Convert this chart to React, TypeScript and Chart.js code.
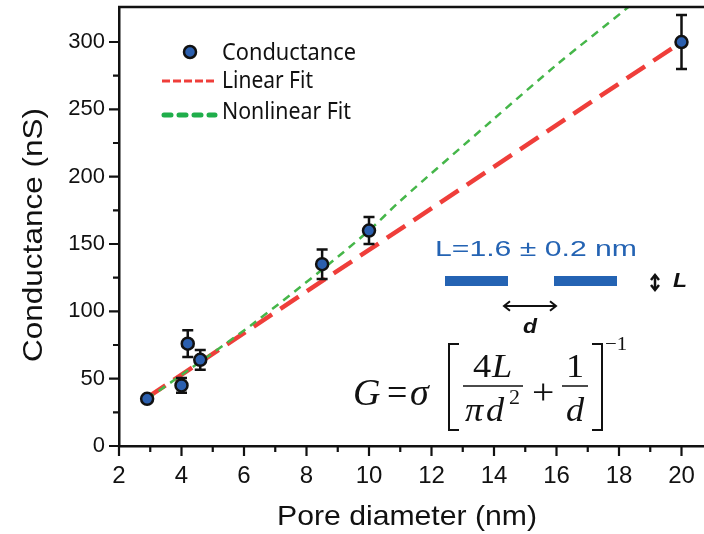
import { useEffect, useRef } from "react";
import { Chart, registerables } from "chart.js";

Chart.register(...registerables);

// Measured pore conductance
const poreDiameter = [2.9, 4.0, 4.2, 4.6, 8.5, 10.0, 20.0];
const conductance = [35, 45, 76, 64, 135, 160, 300];
const conductanceErr = [2, 5.5, 10, 7.3, 11, 10, 20];

// Linear fit line
const linearFitX = [2.9, 20.0];
const linearFitY = [36, 300];

// Nonlinear (access + pore resistance) fit curve
const nonlinearFitX = [2.9, 4.2, 6.3, 8.5, 10.0, 11.0, 14.0, 16.0, 18.3, 18.6];
const nonlinearFitY = [35, 56, 91, 131, 160, 182, 243, 283, 326, 333];

// Axis ticks
const xTicks = [2, 4, 6, 8, 10, 12, 14, 16, 18, 20];
const xMinorTicks = [3, 5, 7, 9, 11, 13, 15, 17, 19];
const yTicks = [0, 50, 100, 150, 200, 250, 300];
const yMinorTicks = [25, 75, 125, 175, 225, 275];

const RED = "#ef3e3a";
const GREEN = "#45b649";
const LEGEND_GREEN = "#1fae4b";
const POINT_BLUE = "#2b5fae";
const TEXT_BLUE = "#2463b3";
const SANS = "'Liberation Sans', Arial, sans-serif";
const SERIF = "'Liberation Serif', 'Times New Roman', serif";

function fitText(
  ctx: CanvasRenderingContext2D,
  text: string,
  x: number,
  y: number,
  font: string,
  width: number,
  color: string
) {
  ctx.save();
  ctx.font = font;
  const w = ctx.measureText(text).width;
  ctx.translate(x, y);
  ctx.scale(width / w, 1);
  ctx.fillStyle = color;
  ctx.textAlign = "left";
  ctx.textBaseline = "alphabetic";
  ctx.fillText(text, 0, 0);
  ctx.restore();
}

function serifText(
  ctx: CanvasRenderingContext2D,
  text: string,
  x: number,
  y: number,
  font: string,
  align: CanvasTextAlign = "left",
  sx = 1.1
) {
  ctx.save();
  ctx.font = font;
  ctx.translate(x, y);
  ctx.scale(sx, 1);
  ctx.fillStyle = "#111";
  ctx.textAlign = align;
  ctx.textBaseline = "alphabetic";
  ctx.fillText(text, 0, 0);
  ctx.restore();
}

function arrowHead(ctx: CanvasRenderingContext2D, x: number, y: number, dx: number, dy: number, size: number) {
  // open chevron pointing in direction (dx, dy)
  const px = -dy;
  const py = dx;
  ctx.beginPath();
  ctx.moveTo(x - dx * size + px * size * 0.8, y - dy * size + py * size * 0.8);
  ctx.lineTo(x, y);
  ctx.lineTo(x - dx * size - px * size * 0.8, y - dy * size - py * size * 0.8);
  ctx.stroke();
}

const decorations = {
  id: "decorations",
  beforeDatasetDraw(chart: any, args: any) {
    if (args.index !== 2) return;
    const ctx = chart.ctx as CanvasRenderingContext2D;
    const xs = chart.scales.x;
    const ys = chart.scales.y;
    ctx.save();
    ctx.strokeStyle = "#111";
    ctx.lineWidth = 2.5;
    poreDiameter.forEach((d, i) => {
      const px = xs.getPixelForValue(d);
      const top = ys.getPixelForValue(conductance[i] + conductanceErr[i]);
      const bot = ys.getPixelForValue(conductance[i] - conductanceErr[i]);
      ctx.beginPath();
      ctx.moveTo(px, top);
      ctx.lineTo(px, bot);
      ctx.moveTo(px - 5.5, top);
      ctx.lineTo(px + 5.5, top);
      ctx.moveTo(px - 5.5, bot);
      ctx.lineTo(px + 5.5, bot);
      ctx.stroke();
    });
    ctx.restore();
  },
  afterDraw(chart: any) {
    const ctx = chart.ctx as CanvasRenderingContext2D;
    const xs = chart.scales.x;
    const ys = chart.scales.y;
    const area = chart.chartArea;
    ctx.save();

    // frame: top line and tick marks
    ctx.strokeStyle = "#111";
    ctx.lineWidth = 2.5;
    ctx.beginPath();
    ctx.moveTo(area.left - 1, area.top);
    ctx.lineTo(area.right, area.top);
    ctx.stroke();

    ctx.lineWidth = 2.2;
    ctx.beginPath();
    xTicks.forEach((v) => {
      const p = xs.getPixelForValue(v);
      ctx.moveTo(p, area.bottom);
      ctx.lineTo(p, area.bottom + 10);
    });
    xMinorTicks.forEach((v) => {
      const p = xs.getPixelForValue(v);
      ctx.moveTo(p, area.bottom);
      ctx.lineTo(p, area.bottom + 6);
    });
    yTicks.forEach((v) => {
      const p = ys.getPixelForValue(v);
      ctx.moveTo(area.left, p);
      ctx.lineTo(area.left - 10, p);
    });
    yMinorTicks.forEach((v) => {
      const p = ys.getPixelForValue(v);
      ctx.moveTo(area.left, p);
      ctx.lineTo(area.left - 6, p);
    });
    ctx.stroke();

    // axis titles
    fitText(ctx, "Pore diameter (nm)", 277, 525, `28px ${SANS}`, 260, "#111");
    ctx.save();
    ctx.translate(42, 362);
    ctx.rotate(-Math.PI / 2);
    fitText(ctx, "Conductance (nS)", 0, 0, `28px ${SANS}`, 254, "#111");
    ctx.restore();

    // legend
    ctx.beginPath();
    ctx.arc(190, 52, 6, 0, Math.PI * 2);
    ctx.fillStyle = POINT_BLUE;
    ctx.fill();
    ctx.lineWidth = 2.5;
    ctx.strokeStyle = "#111";
    ctx.stroke();

    ctx.strokeStyle = RED;
    ctx.lineWidth = 3;
    ctx.setLineDash([8, 3]);
    ctx.beginPath();
    ctx.moveTo(162, 81);
    ctx.lineTo(215, 81);
    ctx.stroke();

    ctx.strokeStyle = LEGEND_GREEN;
    ctx.lineWidth = 5;
    ctx.lineCap = "round";
    ctx.setLineDash([7, 8]);
    ctx.beginPath();
    ctx.moveTo(164, 115);
    ctx.lineTo(215, 115);
    ctx.stroke();
    ctx.setLineDash([]);
    ctx.lineCap = "butt";

    fitText(ctx, "Conductance", 222, 60, `23px 'Noto Sans', ${SANS}`, 134, "#111");
    fitText(ctx, "Linear Fit", 222, 88, `23px 'Noto Sans', ${SANS}`, 91, "#111");
    fitText(ctx, "Nonlinear Fit", 222, 119, `23px 'Noto Sans', ${SANS}`, 129, "#111");

    // pore sketch
    fitText(ctx, "L=1.6 \u00b1 0.2 nm", 435, 256, `22px ${SANS}`, 202, TEXT_BLUE);
    ctx.fillStyle = TEXT_BLUE;
    ctx.fillRect(445, 276, 63, 10);
    ctx.fillRect(554, 276, 63, 10);

    ctx.strokeStyle = "#111";
    ctx.lineWidth = 2;
    ctx.beginPath();
    ctx.moveTo(504, 306);
    ctx.lineTo(556, 306);
    ctx.stroke();
    arrowHead(ctx, 504, 306, -1, 0, 6);
    arrowHead(ctx, 556, 306, 1, 0, 6);

    ctx.lineWidth = 2.5;
    ctx.beginPath();
    ctx.moveTo(655, 275);
    ctx.lineTo(655, 290);
    ctx.stroke();
    arrowHead(ctx, 655, 275, 0, -1, 5);
    arrowHead(ctx, 655, 290, 0, 1, 5);

    fitText(ctx, "d", 523, 333, `italic bold 21px ${SANS}`, 14, "#111");
    fitText(ctx, "L", 673, 287, `italic bold 20px ${SANS}`, 14, "#111");

    // conductance model
    serifText(ctx, "G", 353, 405, `italic 38px ${SERIF}`, "left", 1.0);
    serifText(ctx, "=", 387, 405, `38px ${SERIF}`, "left", 0.95);
    serifText(ctx, "\u03c3", 410, 405, `italic 38px ${SERIF}`, "left", 1.0);

    ctx.strokeStyle = "#111";
    ctx.lineWidth = 2;
    ctx.beginPath();
    ctx.moveTo(459, 344);
    ctx.lineTo(449, 344);
    ctx.lineTo(449, 430);
    ctx.lineTo(459, 430);
    ctx.moveTo(592, 344);
    ctx.lineTo(602, 344);
    ctx.lineTo(602, 430);
    ctx.lineTo(592, 430);
    ctx.stroke();

    serifText(ctx, "4", 473, 377, `33px ${SERIF}`);
    serifText(ctx, "L", 492, 377, `italic 33px ${SERIF}`);
    ctx.lineWidth = 1.6;
    ctx.beginPath();
    ctx.moveTo(463, 386);
    ctx.lineTo(523, 386);
    ctx.moveTo(562, 386);
    ctx.lineTo(588, 386);
    ctx.stroke();
    serifText(ctx, "\u03c0", 465, 421, `italic 33px ${SERIF}`);
    serifText(ctx, "d", 486, 421, `italic 33px ${SERIF}`);
    serifText(ctx, "2", 509, 404, `20px ${SERIF}`);
    serifText(ctx, "+", 532, 404, `36px ${SERIF}`);
    serifText(ctx, "1", 575, 377, `33px ${SERIF}`, "center");
    serifText(ctx, "d", 575, 421, `italic 33px ${SERIF}`, "center");
    serifText(ctx, "\u22121", 605, 350, `19px ${SERIF}`);

    ctx.restore();
  },
};

export default function App() {
  const canvasRef = useRef<HTMLCanvasElement | null>(null);

  useEffect(() => {
    const canvas = canvasRef.current;
    if (!canvas) return;
    const chart = new Chart(canvas, {
      type: "scatter",
      data: {
        datasets: [
          {
            label: "Linear Fit",
            data: linearFitX.map((x, i) => ({ x, y: linearFitY[i] })),
            showLine: true,
            borderColor: RED,
            borderWidth: 4.5,
            borderDash: [22, 10],
            pointRadius: 0,
            order: 3,
          },
          {
            label: "Nonlinear Fit",
            data: nonlinearFitX.map((x, i) => ({ x, y: nonlinearFitY[i] })),
            showLine: true,
            borderColor: GREEN,
            borderWidth: 2.5,
            borderDash: [8, 6],
            pointRadius: 0,
            tension: 0.3,
            order: 2,
          },
          {
            label: "Conductance",
            data: poreDiameter.map((x, i) => ({ x, y: conductance[i] })),
            showLine: false,
            pointRadius: 6,
            pointBackgroundColor: POINT_BLUE,
            pointBorderColor: "#111",
            pointBorderWidth: 2.5,
            order: 1,
          },
        ],
      },
      options: {
        animation: false,
        responsive: false,
        devicePixelRatio: 1,
        layout: { autoPadding: false, padding: { top: 7, right: 0, left: 0, bottom: 0 } },
        plugins: { legend: { display: false }, tooltip: { enabled: false } },
        scales: {
          x: {
            type: "linear",
            min: 2,
            max: 20.72,
            afterBuildTicks: (s: any) => {
              s.ticks = xTicks.map((value) => ({ value }));
            },
            afterFit: (s: any) => {
              s.height = 88;
              s.paddingLeft = 0;
              s.paddingRight = 0;
            },
            grid: { display: false, drawTicks: false },
            border: { display: true, color: "#111", width: 2.5 },
            ticks: {
              color: "#111",
              padding: 16,
              maxRotation: 0,
              font: { family: SANS, size: 24 },
            },
          },
          y: {
            type: "linear",
            min: 0,
            max: 326,
            afterBuildTicks: (s: any) => {
              s.ticks = yTicks.map((value) => ({ value }));
            },
            afterFit: (s: any) => {
              s.width = 119;
              s.paddingTop = 0;
              s.paddingBottom = 0;
            },
            grid: { display: false, drawTicks: false },
            border: { display: true, color: "#111", width: 2.5 },
            ticks: {
              color: "#111",
              padding: 14,
              font: { family: SANS, size: 22 },
            },
          },
        },
      },
      plugins: [decorations],
    });
    return () => chart.destroy();
  }, []);

  return (
    <div style={{ position: "fixed", left: 0, top: 0, width: 704, height: 534, background: "#fff" }}>
      <canvas ref={canvasRef} width={704} height={534} style={{ display: "block" }} />
    </div>
  );
}
